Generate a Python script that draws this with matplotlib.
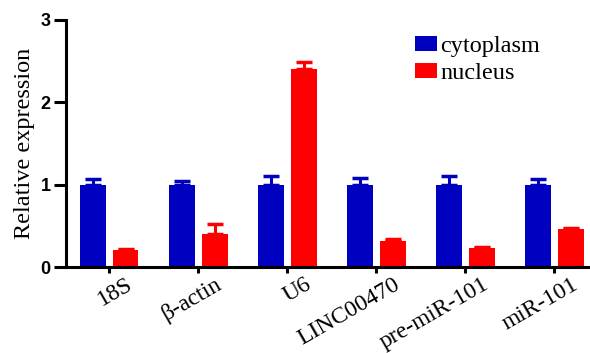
import matplotlib
matplotlib.use("Agg")
import matplotlib.pyplot as plt
import matplotlib.transforms as mtransforms
import numpy as np

categories = ["18S", "β-actin", "U6", "LINC00470", "pre-miR-101", "miR-101"]
cytoplasm = [1.0, 1.0, 1.0, 1.0, 1.0, 1.0]
cytoplasm_err = [0.07, 0.05, 0.10, 0.08, 0.11, 0.07]
nucleus = [0.21, 0.40, 2.41, 0.32, 0.23, 0.46]
nucleus_err = [0.01, 0.12, 0.08, 0.02, 0.01, 0.01]

blue = "#0000C0"
red = "#FF0000"

fig = plt.figure(figsize=(5.9, 3.53), dpi=100)
ax = fig.add_axes([0.112, 0.2436, 0.885, 0.6998])

x = np.arange(len(categories))
w = 0.29
off = 0.185
ekw = dict(elinewidth=2.2, capsize=6, capthick=2.5)
ax.bar(x - off, cytoplasm, w, color=blue, label="cytoplasm",
       yerr=[np.zeros(len(x)), cytoplasm_err],
       error_kw=dict(ecolor=blue, **ekw))
ax.bar(x + off, nucleus, w, color=red, label="nucleus",
       yerr=[np.zeros(len(x)), nucleus_err],
       error_kw=dict(ecolor=red, **ekw))

for s in ["top", "right"]:
    ax.spines[s].set_visible(False)
for s in ["left", "bottom"]:
    ax.spines[s].set_linewidth(2.2)
ax.tick_params(axis="y", width=2.2, length=9, direction="out", pad=2)
ax.tick_params(axis="x", width=2.2, length=4, direction="out", pad=1)

ax.set_xlim(-0.483, 5.38)
ax.set_ylim(0, 3)
ax.set_yticks([0, 1, 2, 3])
ax.set_yticklabels(["0", "1", "2", "3"], fontweight="bold", fontsize=13,
                   family="Liberation Sans")
ax.set_xticks(x)
ax.set_xticklabels(categories, rotation=30, ha="right", va="top",
                   rotation_mode="anchor",
                   fontsize=17, family="Liberation Serif")
shift = mtransforms.ScaledTranslation(17 / 100, 0, fig.dpi_scale_trans)
for lab in ax.get_xticklabels():
    lab.set_transform(lab.get_transform() + shift)

ax.set_ylabel("Relative expression", fontsize=17.5, family="Liberation Serif",
              labelpad=4)

leg = ax.legend(loc="upper left", bbox_to_anchor=(0.668, 0.935), frameon=False,
                prop=dict(family="Liberation Serif", size=17.5),
                handlelength=0.9, handleheight=0.55, handletextpad=0.15,
                labelspacing=0.25, borderaxespad=0, borderpad=0)

fig.savefig("out.png", dpi=100)
